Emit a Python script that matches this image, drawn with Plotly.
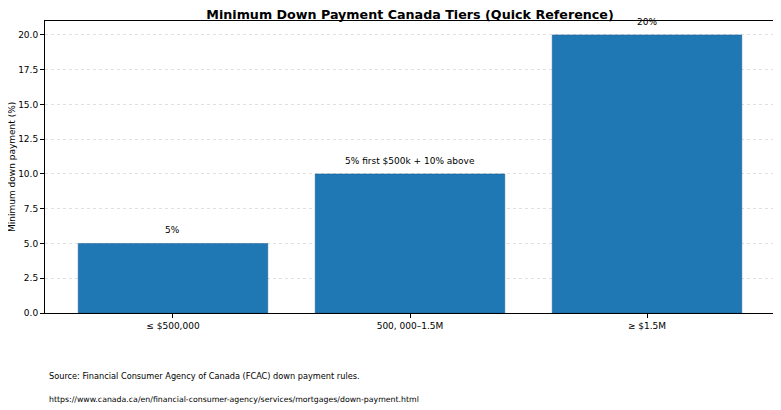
import plotly.graph_objects as go

categories = ["≤ $500,000", "500, 000–1.5M", "≥ $1.5M"]
values = [5, 10, 20]
bar_labels = ["5%", "5% first $500k + 10% above", "20%"]
y_ticks = [0, 2.5, 5, 7.5, 10, 12.5, 15, 17.5, 20]
title = "<b>Minimum Down Payment Canada Tiers (Quick Reference)</b>"
y_title = "Minimum down payment (%)"
source = "Source: Financial Consumer Agency of Canada (FCAC) down payment rules."
url = "https://www.canada.ca/en/financial-consumer-agency/services/mortgages/down-payment.html"

xs = list(range(len(categories)))

fig = go.Figure()
fig.add_trace(go.Bar(
    x=xs, y=values, width=0.8,
    marker=dict(color="#1f77b4", line=dict(color="#1a5f94", width=0.5)),
    hoverinfo="skip",
))

for x, v, t in zip(xs, values, bar_labels):
    fig.add_annotation(x=x, y=v, text=t, showarrow=False, yshift=13,
                       font=dict(size=9, color="#000"))

fig.add_annotation(xref="paper", yref="paper", x=-0.0452, y=0.5, xanchor="center",
                   yanchor="middle", text=y_title, textangle=-90, showarrow=False,
                   font=dict(size=9, color="#000"))
fig.add_annotation(xref="paper", yref="paper", x=0.003, y=-0.216, xanchor="left",
                   yanchor="middle", text=source, showarrow=False,
                   font=dict(size=8.2, color="#000"))
fig.add_annotation(xref="paper", yref="paper", x=0.003, y=-0.295, xanchor="left",
                   yanchor="middle", text=url, showarrow=False,
                   font=dict(size=7.8, color="#000"))

fig.update_layout(
    width=773, height=402,
    margin=dict(l=37, r=6, t=13, b=97, autoexpand=False),
    paper_bgcolor="white", plot_bgcolor="white",
    font=dict(family="DejaVu Sans", size=9, color="#000"),
    title=dict(text=title, xref="paper", x=0.5, xanchor="center",
               yref="container", y=0.983, yanchor="middle",
               font=dict(size=12.7, color="#000")),
    showlegend=False,
    bargap=0.2,
)
fig.update_xaxes(
    range=[-0.54, 2.54], tickvals=xs, ticktext=categories,
    showline=True, linecolor="#000", linewidth=1, mirror=True,
    ticks="outside", ticklen=4, tickcolor="#000", showgrid=False, zeroline=False,
    automargin=False, tickfont=dict(size=9),
)
fig.update_yaxes(
    range=[0, 21], tickvals=y_ticks, ticktext=[f"{t:.1f}" for t in y_ticks],
    showline=True, linecolor="#000", linewidth=1, mirror=True,
    ticks="outside", ticklen=4, tickcolor="#000",
    showgrid=True, gridcolor="#e0e0e0", griddash="dot", gridwidth=0.8,
    zeroline=False, automargin=False, tickfont=dict(size=9),
)

fig.write_html("out.html")
